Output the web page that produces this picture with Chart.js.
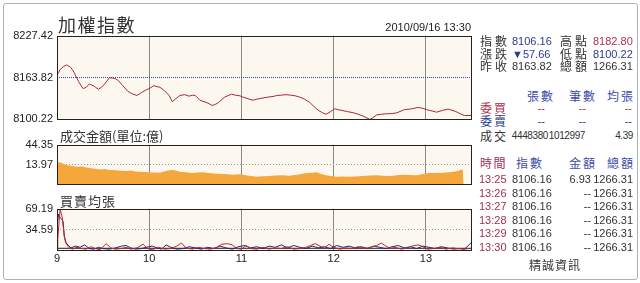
<!DOCTYPE html>
<html>
<head>
<meta charset="utf-8">
<script src="https://cdn.jsdelivr.net/npm/chart.js@4.4.0/dist/chart.umd.min.js"></script>
<style>
  html, body { margin: 0; padding: 0; background: #fff; }
  #wrap { position: relative; width: 640px; height: 283px; overflow: hidden; font-family: 'Liberation Sans', sans-serif; }
  #frame { position: absolute; left: 3px; top: 3px; width: 633px; height: 275px; border: 1px solid #aab2ba; border-radius: 3px; }
  canvas { position: absolute; left: 0; }
  .t { position: absolute; white-space: nowrap; line-height: 1; transform: translateY(-50%); }
  .t.r { transform: translate(-100%, -50%); }
  .t.c { transform: translate(-50%, -50%); }
  .cjk { font-family: 'Noto Sans CJK TC', sans-serif; }
</style>
</head>
<body>
<div id="wrap">
  <div id="frame"></div>
  <canvas id="cIdx" width="480" height="105" style="top:25px"></canvas>
  <canvas id="cVol" width="480" height="61" style="top:134px"></canvas>
  <canvas id="cAvg" width="480" height="72" style="top:198px"></canvas>
</div>
<script>
// 時間軸: 分鐘 (0 = 9:00, 270 = 13:30)
const hourTicks = [0, 60, 120, 180, 240];
const hourLabels = ['9', '10', '11', '12', '13'];

// 加權指數 [分鐘, 指數]
const indexSeries = [
  [0, 8168], [1, 8171], [2, 8176], [3, 8178], [4, 8180], [6, 8182.8], [7, 8182], [9, 8179],
  [11, 8172], [12.5, 8165], [14, 8158], [15, 8154], [17, 8147], [18, 8148], [19, 8149],
  [21, 8154], [22, 8153], [24, 8151], [25, 8149], [27, 8146], [29, 8149], [31, 8154],
  [33, 8160], [34, 8163.5], [36, 8163], [38, 8162], [40, 8159], [43, 8151], [46, 8143],
  [49, 8139], [52, 8136.5], [55, 8141], [58, 8145], [60, 8147], [63, 8151.5], [65, 8150],
  [67, 8149], [70, 8143.5], [73, 8136.5], [75, 8127], [77, 8131], [80, 8136.5], [83, 8137.8],
  [86, 8135.5], [88, 8137], [90, 8136.5], [93, 8129.3], [97, 8126], [99, 8124], [101, 8121.3],
  [103, 8123], [105, 8125.6], [107, 8130], [109, 8134], [111, 8136], [113.5, 8138.5],
  [116, 8137], [119, 8136], [121, 8134], [123, 8132.7], [125, 8131], [127.5, 8129.3],
  [130, 8131], [134, 8132.7], [137, 8134], [140.6, 8135], [143, 8136.5], [146, 8137],
  [149, 8137.8], [152, 8137], [155, 8136], [158, 8134], [161, 8131], [164.5, 8126],
  [167, 8120], [169, 8116], [171, 8112.6], [173, 8110], [175, 8108], [178, 8112],
  [180.6, 8116.4], [183, 8115], [186, 8113.6], [189, 8112], [193, 8110.2], [196, 8108],
  [199, 8105.4], [201, 8103], [203.6, 8100.22], [205, 8102], [208, 8107], [211, 8108],
  [214.5, 8108.8], [218, 8109], [221, 8110.2], [224, 8113], [226, 8115], [230, 8116],
  [235, 8118.4], [238, 8117], [240.5, 8115], [244, 8113], [247, 8111.2], [251, 8114],
  [254.6, 8115.9], [257, 8114], [259, 8112.6], [261, 8110.5], [263, 8108], [265, 8106.16],
  [270, 8106.16]
];
const indexTicks = [8100.22, 8163.82, 8227.42];
const indexTickLabels = ['8100.22', '8163.82', '8227.42'];

// 成交金額 (億) [分鐘, 金額]
const volumeSeries = [
  [0, 16.5], [1, 16.0], [2, 15.6], [3, 15.3], [5, 14.2], [6, 13.6], [8, 13.2], [10, 12.8],
  [12, 12.5], [14, 12.2], [16, 12.6], [19, 11.8], [22, 11.2], [25, 10.9], [28, 10.5],
  [31, 10.8], [34, 10.2], [36, 10.2], [40, 9.8], [45, 9.6], [48, 9.9], [51, 9.3], [54, 9.2],
  [57, 9.0], [60, 8.9], [63, 8.8], [67, 8.6], [69, 9.2], [71, 9.6], [73, 10.0], [75, 10.2],
  [77, 9.8], [80, 9.2], [84, 8.9], [88, 8.5], [92, 8.8], [95, 8.9], [99, 8.5], [104, 8.2],
  [108, 8.0], [111, 7.9], [115, 7.7], [118, 7.9], [121, 7.7], [125, 7.3], [130, 6.9],
  [134, 7.1], [138, 7.2], [142, 7.4], [147, 7.5], [151, 7.3], [156, 7.7], [159, 8.1],
  [162, 8.5], [166, 8.7], [169, 8.9], [172, 8.1], [175, 7.5], [178, 7.2], [182, 6.9],
  [186, 7.0], [190, 6.9], [194, 7.0], [199, 7.2], [203, 7.4], [208, 7.5], [212, 7.3],
  [217, 7.2], [221, 7.5], [225, 7.7], [229, 7.6], [234, 7.5], [238, 8.0], [242, 8.5],
  [246, 8.5], [251, 8.6], [255, 8.9], [258, 9.2], [260, 9.4], [262, 10.0], [263, 10.5],
  [264, 10.2], [264.5, 4.4], [270, 4.4]
];
const volumeTicks = [13.97, 44.35];
const volumeTickLabels = ['13.97', '44.35'];

// 買賣均張 [分鐘, 張]
const buyAvg = [
  [0, 0], [0.5, 20], [2, 68], [3.4, 55], [4, 40], [4.8, 25], [5.5, 14], [7, 8], [8, 5],
  [10, 3], [13, 6], [16, 4], [19, 3], [22, 7], [25, 4], [28, 2], [32, 12], [35, 5], [38, 3],
  [42, 4], [45, 6], [48, 3], [52, 5], [56, 11], [59, 4], [62, 2], [66, 6], [70, 3], [74, 4],
  [78, 8], [81, 13], [84, 5], [88, 3], [92, 6], [96, 4], [100, 3], [104, 6], [107, 11],
  [111, 12], [114, 10], [117, 4], [120, 3], [123, 9], [126, 4], [130, 3], [134, 6], [138, 3],
  [142, 5], [146, 4], [150, 7], [154, 3], [158, 4], [162, 6], [165, 9], [168, 12], [171, 8],
  [174, 5], [177, 11], [180, 6], [184, 3], [188, 5], [192, 4], [196, 7], [200, 4], [204, 6],
  [208, 9], [211, 13], [214, 8], [217, 4], [220, 6], [224, 3], [228, 5], [231, 8], [235, 10],
  [238, 7], [241, 3], [245, 4], [249, 6], [253, 3], [257, 5], [261, 4], [265, 3], [268, 4]
];
const sellAvg = [
  [0, 0], [0.3, 45], [1, 60], [2, 55], [3, 52], [4, 48], [4.7, 24], [6, 13], [7.5, 9], [9, 5],
  [12, 8], [15, 6], [18, 10], [21, 4], [24, 3], [27, 6], [30, 4], [34, 3], [38, 5], [42, 8],
  [45, 9], [48, 5], [51, 3], [55, 4], [58, 6], [62, 8], [65, 5], [68, 3], [71, 10], [74, 6],
  [78, 3], [82, 4], [86, 7], [90, 5], [94, 3], [98, 6], [102, 4], [106, 8], [110, 5], [114, 3],
  [118, 7], [122, 9], [126, 5], [130, 7], [134, 4], [138, 8], [142, 6], [146, 10], [150, 5],
  [154, 9], [158, 6], [162, 4], [166, 8], [170, 5], [174, 7], [178, 4], [182, 9], [186, 6],
  [190, 8], [194, 5], [198, 7], [202, 4], [206, 8], [210, 6], [214, 4], [218, 7], [222, 9],
  [226, 5], [230, 7], [234, 4], [238, 8], [242, 6], [246, 4], [250, 7], [254, 5], [258, 3],
  [262, 4], [265, 3], [268, 10], [270, 15]
];
const dealAvg = [[0, 4.39], [270, 4.39]];
const avgTicks = [34.59, 69.19];
const avgTickLabels = ['34.59', '69.19'];

// 右側報價
const quoteLeft = [['指數', '8106.16'], ['漲跌', '▼57.66'], ['昨收', '8163.82']];
const quoteRight = [['高點', '8182.80'], ['低點', '8100.22'], ['總額', '1266.31']];
const bookHeads = ['張數', '筆數', '均張'];
const bidRow = ['--', '--', '--'];
const askRow = ['--', '--', '--'];
const dealRow = ['4448380', '1012997', '4.39'];
const tickHeads = ['時間', '指數', '金額', '總額'];
const tickTimes = ['13:25', '13:26', '13:27', '13:28', '13:29', '13:30'];
const tickIndex = ['8106.16', '8106.16', '8106.16', '8106.16', '8106.16', '8106.16'];
const tickAmount = ['6.93', '--', '--', '--', '--', '--'];
const tickTotal = ['1266.31', '1266.31', '1266.31', '1266.31', '1266.31', '1266.31'];

const DARK = '#333';
const NAVY = '#2b3990';
const RED = '#b3304a';
const HEAD = '#3c4ca8';

Chart.defaults.font.family = "'Liberation Sans', sans-serif";
Chart.defaults.font.size = 11;
Chart.defaults.color = '#222';

const wrap = document.getElementById('wrap');
function put(text, x, y, size, color, align, spacing) {
  const d = document.createElement('div');
  d.className = 't' + (align ? ' ' + align : '') + (/[\u4e00-\u9fff]/.test(text) ? ' cjk' : '');
  d.style.left = x + 'px';
  d.style.top = y + 'px';
  d.style.fontSize = size + 'px';
  d.style.color = color;
  if (spacing) d.style.letterSpacing = spacing + 'px';
  d.textContent = text;
  wrap.appendChild(d);
  return d;
}

// 面板底色與外框
const panelFrame = {
  id: 'panelFrame',
  beforeDraw(chart) {
    const a = chart.chartArea, ctx = chart.ctx;
    ctx.save();
    ctx.fillStyle = '#fdf8ef';
    ctx.fillRect(a.left, a.top, a.right - a.left, a.bottom - a.top);
    ctx.restore();
  },
  afterDraw(chart) {
    const a = chart.chartArea, ctx = chart.ctx;
    ctx.save();
    ctx.strokeStyle = '#222';
    ctx.lineWidth = 1;
    ctx.strokeRect(Math.round(a.left) + 0.5, Math.round(a.top) + 0.5,
      Math.round(a.right - a.left) - 1, Math.round(a.bottom - a.top) - 1);
    ctx.restore();
  }
};

function xScale(showLabels) {
  return {
    type: 'linear', min: 0, max: 270,
    afterBuildTicks: s => { s.ticks = hourTicks.map(v => ({ value: v })); },
    afterFit: s => { s.height = showLabels ? 16 : 0; },
    grid: { color: c => (c.tick && c.tick.value > 0) ? '#8a8a8a' : 'rgba(0,0,0,0)', drawTicks: false },
    border: { display: false },
    ticks: {
      display: showLabels, padding: 1, autoSkip: false, maxRotation: 0,
      callback: (v, i) => hourLabels[i]
    }
  };
}

function yScale(type, min, max, ticks, labels, midValue, dotColor, dash) {
  return {
    type: type, min: min, max: max,
    afterBuildTicks: s => { s.ticks = ticks.map(v => ({ value: v })); },
    afterFit: s => { s.width = 57; },
    grid: { color: c => (c.tick && c.tick.value === midValue) ? dotColor : 'rgba(0,0,0,0)', drawTicks: false },
    border: { display: false, dash: dash },
    ticks: { padding: 4, autoSkip: false, callback: (v, i) => labels[i] }
  };
}

function pts(series) {
  return series.map(p => ({ x: p[0], y: p[1] }));
}

const common = {
  responsive: false,
  animation: false,
  events: [],
  plugins: { legend: { display: false }, tooltip: { enabled: false } },
  elements: { point: { radius: 0 }, line: { tension: 0, borderWidth: 1 } }
};

new Chart(document.getElementById('cIdx'), {
  type: 'line',
  data: { datasets: [{ data: pts(indexSeries), borderColor: '#a52a3a' }] },
  options: Object.assign({}, common, {
    layout: { padding: { top: 8, right: 8, bottom: 8, left: 0 } },
    scales: {
      x: xScale(false),
      y: yScale('linear', 8100.22, 8227.42, indexTicks, indexTickLabels, 8163.82, '#3448c0', [1, 1])
    }
  }),
  plugins: [panelFrame]
});

new Chart(document.getElementById('cVol'), {
  type: 'line',
  data: { datasets: [{ data: pts(volumeSeries), borderColor: '#f6a73b', borderWidth: 0, backgroundColor: '#f6a73b', fill: 'start' }] },
  options: Object.assign({}, common, {
    layout: { padding: { top: 8, right: 8, bottom: 8, left: 0 } },
    scales: {
      x: xScale(false),
      y: yScale('logarithmic', 4.40, 44.35, volumeTicks, volumeTickLabels, 13.97, '#999', [1, 2])
    }
  }),
  plugins: [panelFrame]
});

new Chart(document.getElementById('cAvg'), {
  type: 'line',
  data: {
    datasets: [
      { data: pts(buyAvg), borderColor: '#c02828' },
      { data: pts(sellAvg), borderColor: '#24248c' },
      { data: pts(dealAvg), borderColor: '#222' }
    ]
  },
  options: Object.assign({}, common, {
    layout: { padding: { top: 8, right: 8, bottom: 3, left: 0 } },
    scales: {
      x: xScale(true),
      y: yScale('linear', 0, 69.19, avgTicks, avgTickLabels, 34.59, '#999', [1, 2])
    }
  }),
  plugins: [panelFrame]
});

// 標題
put('加權指數', 58, 24, 18, DARK, '', 1.5);
put('2010/09/16 13:30', 471, 26.5, 11, '#222', 'r');
put('成交金額(單位:億)', 60, 135, 13, DARK);
put('買賣均張', 60, 200, 13, DARK, '', 1);

// 右側報價
const quoteY = [41, 54, 66];
const quoteLeftColors = [NAVY, NAVY, DARK];
const quoteRightColors = [RED, NAVY, DARK];
quoteY.forEach((y, i) => {
  put(quoteLeft[i][0], 480, y, 12, DARK, '', 3);
  put(quoteLeft[i][1], 512, y, 11, quoteLeftColors[i]);
  put(quoteRight[i][0], 560, y, 12, DARK, '', 3);
  put(quoteRight[i][1], 593, y, 11, quoteRightColors[i]);
});

const bookRights = [555, 597, 635];
bookHeads.forEach((h, i) => put(h, bookRights[i], 96, 12, HEAD, 'r', 2));
put('委買', 480, 108, 12, RED, '', 2);
put('委賣', 480, 121, 12, NAVY, '', 2);
const dashRights = [545, 586, 632];
bidRow.forEach((v, i) => put(v, dashRights[i], 108, 11, RED, 'r'));
askRow.forEach((v, i) => put(v, dashRights[i], 121, 11, NAVY, 'r'));
put('成交', 480, 136, 12, DARK, '', 2);
const dealRights = [548, 585, 633];
dealRow.forEach((v, i) => put(v, dealRights[i], 136, 10, DARK, 'r', -0.4));

const headRights = [0, 544, 597, 635];
put(tickHeads[0], 480, 163, 12, '#a8305a', '', 1.5);
put(tickHeads[1], headRights[1], 163, 12, HEAD, 'r', 2);
put(tickHeads[2], headRights[2], 163, 12, HEAD, 'r', 2);
put(tickHeads[3], headRights[3], 163, 12, HEAD, 'r', 2);
const rowY = [179, 192.5, 206, 219.5, 233, 246.5];
rowY.forEach((y, i) => {
  put(tickTimes[i], 479, y, 11, '#a8304a');
  put(tickIndex[i], 512, y, 11, DARK);
  put(tickAmount[i], 591, y, 11, DARK, 'r');
  put(tickTotal[i], 633, y, 11, DARK, 'r');
});
put('精誠資訊', 555, 265, 12, DARK, 'c', 1);
</script>
</body>
</html>
